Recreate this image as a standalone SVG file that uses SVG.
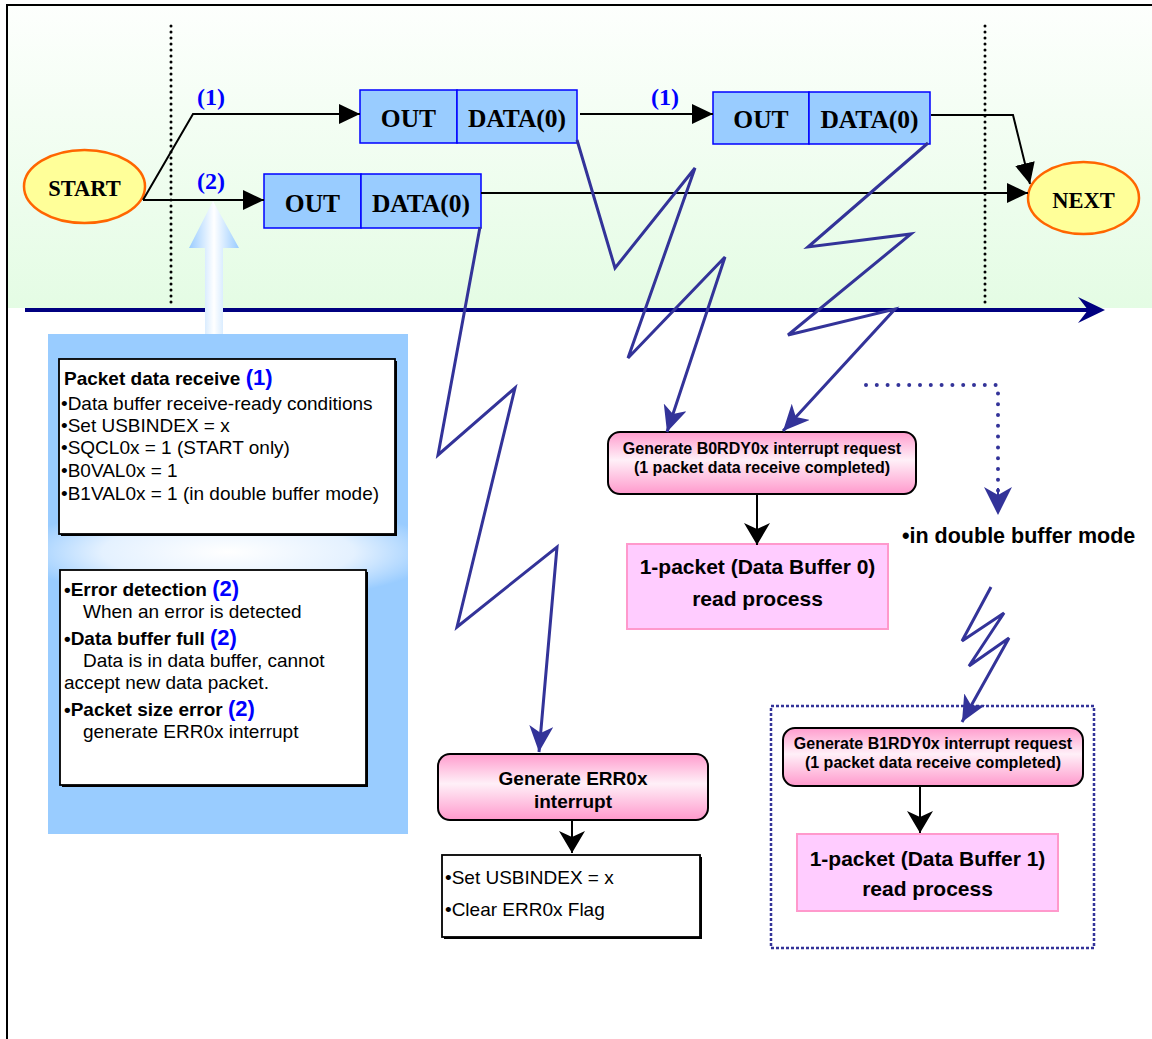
<svg xmlns="http://www.w3.org/2000/svg" width="1152" height="1039" viewBox="0 0 1152 1039">
  <style>
    .serif { font-family: "Liberation Serif", "Times New Roman", serif; font-weight: bold; }
    .sans { font-family: "Liberation Sans", Arial, sans-serif; }
    .b { font-weight: bold; }
    .tok { font-size: 25.5px; fill: #000; text-anchor: middle; }
    .step { font-size: 24px; fill: #0000ff; text-anchor: middle; }
    .pkt { fill: #99ccff; stroke: #0000ff; stroke-width: 1.5; }
    .term { fill: #ffff99; stroke: #ff6600; stroke-width: 2.5; }
    .flow { fill: none; stroke: #000; stroke-width: 2; }
    .bolt { fill: none; stroke: #333399; stroke-width: 3; stroke-linejoin: miter; }
    .note { fill: #fff; stroke: #000; stroke-width: 1.8; }
    .shadow { fill: #000; }
    .irq { fill: url(#pinkV); stroke: #000; stroke-width: 2; }
    .proc { fill: #ffccff; stroke: #ff99cc; stroke-width: 2; }
    .txt { font-size: 19px; fill: #000; }
    .num { font-size: 22px; fill: #0000ff; font-weight: bold; }
    .mid { text-anchor: middle; }
    .irqtxt { font-size: 16px; }
    .guide { stroke: #000; stroke-width: 3; stroke-linecap: round; stroke-dasharray: 0 6; fill: none; }
  </style>
  <defs>
    <linearGradient id="band" x1="0" y1="0" x2="0" y2="1">
      <stop offset="0" stop-color="#fdfffd"/>
      <stop offset="1" stop-color="#e4fce4"/>
    </linearGradient>
    <radialGradient id="panelGlow" cx="228" cy="552" r="210" gradientUnits="userSpaceOnUse" gradientTransform="translate(0 552) scale(1 0.24) translate(0 -552)">
      <stop offset="0" stop-color="#ffffff"/>
      <stop offset="0.6" stop-color="#e4f1ff"/>
      <stop offset="1" stop-color="#99ccff"/>
    </radialGradient>
    <linearGradient id="upArrow" x1="0" y1="0" x2="1" y2="0">
      <stop offset="0" stop-color="#99ccff"/>
      <stop offset="0.5" stop-color="#ffffff"/>
      <stop offset="1" stop-color="#99ccff"/>
    </linearGradient>
    <linearGradient id="pinkV" x1="0" y1="0" x2="0" y2="1">
      <stop offset="0" stop-color="#ff9ccd"/>
      <stop offset="0.45" stop-color="#fff0f8"/>
      <stop offset="1" stop-color="#ff99cc"/>
    </linearGradient>
    <marker id="triBlack" markerUnits="userSpaceOnUse" markerWidth="21" markerHeight="20" viewBox="0 0 21 20" refX="21" refY="10" orient="auto">
      <path d="M0,0 L21,10 L0,20 Z" fill="#000"/>
    </marker>
    <marker id="barbBlack" markerUnits="userSpaceOnUse" markerWidth="22" markerHeight="26" viewBox="0 0 22 26" refX="22" refY="13" orient="auto">
      <path d="M0,0 L22,13 L0,26 L6,13 Z" fill="#000"/>
    </marker>
    <marker id="barbBlue" markerUnits="userSpaceOnUse" markerWidth="26" markerHeight="24" viewBox="0 0 26 24" refX="26" refY="12" orient="auto">
      <path d="M0,0 L26,12 L0,24 L7,12 Z" fill="#333399"/>
    </marker>
    <marker id="barbBlueBig" markerUnits="userSpaceOnUse" markerWidth="28" markerHeight="28" viewBox="0 0 28 28" refX="28" refY="14" orient="auto">
      <path d="M0,0 L28,14 L0,28 L8,14 Z" fill="#333399"/>
    </marker>
  </defs>

  <!-- page frame and bus-phase band -->
  <rect x="0" y="0" width="1152" height="1039" fill="#fff"/>
  <rect x="8" y="6" width="1144" height="302" fill="url(#band)"/>
  <path d="M7,1039 V5 H1152" fill="none" stroke="#000" stroke-width="2"/>

  <!-- phase boundaries -->
  <line class="guide" x1="171" y1="26" x2="171" y2="303"/>
  <line class="guide" x1="985" y1="26" x2="985" y2="303"/>

  <!-- time axis -->
  <g id="time-axis">
    <line x1="25" y1="310" x2="1090" y2="310" stroke="#000080" stroke-width="4"/>
    <path d="M1078,297 L1105,310 L1078,323 L1088,310 Z" fill="#000080"/>
  </g>

  <!-- condition panel -->
  <g id="condition-panel">
    <rect x="48" y="334" width="360" height="500" fill="url(#panelGlow)"/>
    <path d="M205,334 V248 H189 L213,201 L239,248 H223 V334 Z" fill="url(#upArrow)"/>
  </g>

  <g id="node-start">
    <ellipse class="term" cx="84.5" cy="186.5" rx="60.5" ry="36.5"/>
    <text class="serif mid" x="84.5" y="196" font-size="22.5">START</text>
  </g>
  <g id="node-next">
    <ellipse class="term" cx="1083.5" cy="198" rx="55.5" ry="36"/>
    <text class="serif mid" x="1083.5" y="208" font-size="22.5">NEXT</text>
  </g>

  <g id="packet-1a">
    <rect class="pkt" x="360" y="90" width="97" height="53"/>
    <rect class="pkt" x="457" y="90" width="120" height="53"/>
    <text class="serif tok" x="408.5" y="127">OUT</text>
    <text class="serif tok" x="517" y="127">DATA(0)</text>
  </g>
  <g id="packet-1b">
    <rect class="pkt" x="713" y="92" width="96" height="52"/>
    <rect class="pkt" x="809" y="92" width="121" height="52"/>
    <text class="serif tok" x="761" y="128">OUT</text>
    <text class="serif tok" x="869.5" y="128">DATA(0)</text>
  </g>
  <g id="packet-2">
    <rect class="pkt" x="264" y="174" width="97" height="54"/>
    <rect class="pkt" x="361" y="174" width="120" height="54"/>
    <text class="serif tok" x="312.5" y="212">OUT</text>
    <text class="serif tok" x="421" y="212">DATA(0)</text>
  </g>

  <g id="step-labels">
    <text class="serif step" x="211" y="105">(1)</text>
    <text class="serif step" x="211" y="189">(2)</text>
    <text class="serif step" x="665" y="105">(1)</text>
  </g>

  <g id="note-receive">
    <rect class="shadow" x="61" y="361" width="336" height="175"/>
    <rect class="note" x="59" y="359" width="336" height="175"/>
    <text class="sans txt" x="64" y="385"><tspan class="b">Packet data receive </tspan><tspan class="num">(1)</tspan></text>
    <text class="sans txt" x="61" y="410">•Data buffer receive-ready conditions</text>
    <text class="sans txt" x="61" y="432">•Set USBINDEX = x</text>
    <text class="sans txt" x="61" y="454">•SQCL0x = 1 (START only)</text>
    <text class="sans txt" x="61" y="477">•B0VAL0x = 1</text>
    <text class="sans txt" x="61" y="500">•B1VAL0x = 1 (in double buffer mode)</text>
  </g>

  <g id="note-errors">
    <rect class="shadow" x="62" y="572" width="306" height="215"/>
    <rect class="note" x="60" y="570" width="306" height="215"/>
    <text class="sans txt" x="64" y="596"><tspan class="b">•Error detection </tspan><tspan class="num">(2)</tspan></text>
    <text class="sans txt" x="83" y="618">When an error is detected</text>
    <text class="sans txt" x="64" y="645"><tspan class="b">•Data buffer full </tspan><tspan class="num">(2)</tspan></text>
    <text class="sans txt" x="83" y="667">Data is in data buffer, cannot</text>
    <text class="sans txt" x="64" y="689">accept new data packet.</text>
    <text class="sans txt" x="64" y="716"><tspan class="b">•Packet size error </tspan><tspan class="num">(2)</tspan></text>
    <text class="sans txt" x="83" y="738">generate ERR0x interrupt</text>
  </g>

  <g id="irq-err">
    <rect class="irq" x="438" y="754" width="270" height="66" rx="12"/>
    <text class="sans b mid" x="573" y="785" font-size="19">Generate ERR0x</text>
    <text class="sans b mid" x="573" y="808" font-size="19">interrupt</text>
  </g>
  <g id="err-actions">
    <rect class="shadow" x="444" y="857" width="258" height="82"/>
    <rect class="note" x="442" y="855" width="258" height="82"/>
    <text class="sans txt" x="445" y="884">•Set USBINDEX = x</text>
    <text class="sans txt" x="445" y="916">•Clear ERR0x Flag</text>
  </g>

  <g id="irq-b0rdy">
    <rect class="irq" x="608" y="432" width="308" height="62" rx="12"/>
    <text class="sans b mid irqtxt" x="762" y="454">Generate B0RDY0x interrupt request</text>
    <text class="sans b mid irqtxt" x="762" y="473">(1 packet data receive completed)</text>
  </g>
  <g id="read-buffer0">
    <rect class="proc" x="627" y="544" width="261" height="85"/>
    <text class="sans b mid" x="757.5" y="574" font-size="21">1-packet (Data Buffer 0)</text>
    <text class="sans b mid" x="757.5" y="606" font-size="21">read process</text>
  </g>

  <g id="double-buffer-note">
    <text class="sans b" x="902" y="543" font-size="21.5">•in double buffer mode</text>
  </g>

  <g id="double-buffer-group">
    <rect x="771" y="706" width="323" height="242" fill="none" stroke="#333399" stroke-width="2.5" stroke-dasharray="3 2"/>
  </g>
  <g id="irq-b1rdy">
    <rect class="irq" x="783" y="728" width="300" height="58" rx="12"/>
    <text class="sans b mid irqtxt" x="933" y="749">Generate B1RDY0x interrupt request</text>
    <text class="sans b mid irqtxt" x="933" y="768">(1 packet data receive completed)</text>
  </g>
  <g id="read-buffer1">
    <rect class="proc" x="797" y="834" width="261" height="77"/>
    <text class="sans b mid" x="927.5" y="866" font-size="21">1-packet (Data Buffer 1)</text>
    <text class="sans b mid" x="927.5" y="896" font-size="21">read process</text>
  </g>

  <g id="connectors">
    <!-- token flow -->
    <path class="flow" d="M143,200 L193,114 H360" marker-end="url(#triBlack)"/>
    <path class="flow" d="M143,200 H264" marker-end="url(#triBlack)"/>
    <path class="flow" d="M580,114 H713" marker-end="url(#triBlack)"/>
    <path class="flow" d="M931,115 H1013 L1030,184" marker-end="url(#triBlack)"/>
    <path class="flow" d="M481,193 H1028" marker-end="url(#triBlack)"/>

    <!-- interrupt bolts -->
    <path class="bolt" d="M480,227 L438,455 L515,388 L457,627 L557,547 L539,752" marker-end="url(#barbBlue)"/>
    <path class="bolt" d="M577,140 L615,268 L695,168 L628,358 L725,257 L667,432" marker-end="url(#barbBlue)"/>
    <path class="bolt" d="M928,143 L808,247 L911,234 L788,335 L895,309 L783,431" marker-end="url(#barbBlue)"/>
    <path class="bolt" d="M991,587 L962,641 L1004,613 L969,666 L1009,638 L962,722" marker-end="url(#barbBlue)"/>

    <!-- double buffer branch -->
    <path d="M866,385 H998 V492" fill="none" stroke="#333399" stroke-width="4" stroke-linecap="round" stroke-dasharray="0 10.8"/>
    <path d="M998,490 V515" fill="none" stroke="none" marker-end="url(#barbBlueBig)"/>
    <path d="M998,488 V500" stroke="#333399" stroke-width="2"/>

    <!-- interrupt to processing -->
    <path class="flow" d="M572,820 V853" marker-end="url(#barbBlack)"/>
    <path class="flow" d="M757,494 V545" marker-end="url(#barbBlack)"/>
    <path class="flow" d="M920,786 V833" marker-end="url(#barbBlack)"/>
  </g>
</svg>
